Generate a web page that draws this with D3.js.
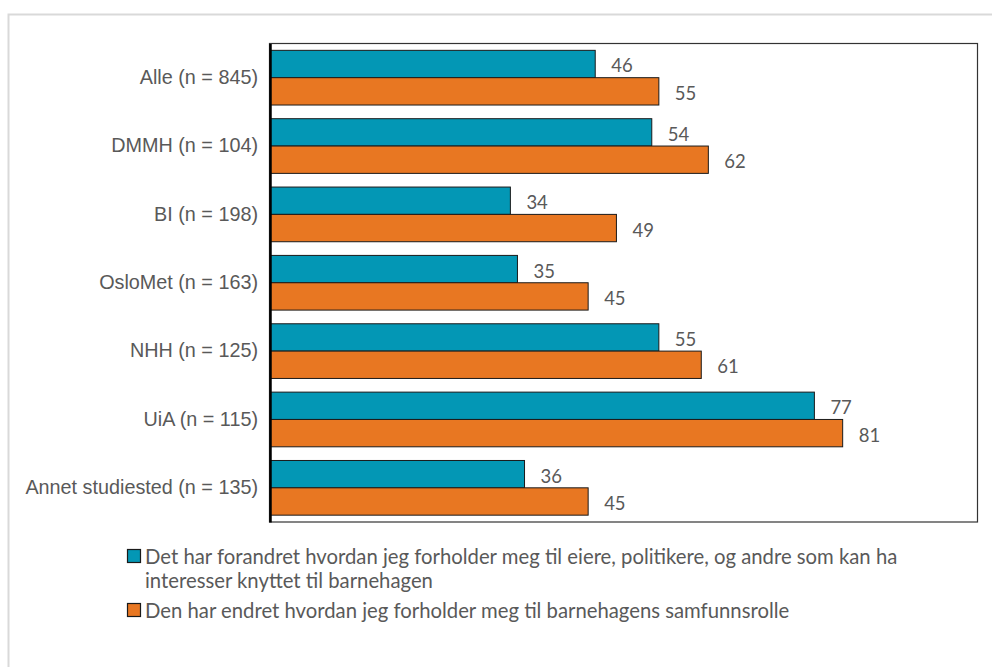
<!DOCTYPE html>
<html><head><meta charset="utf-8">
<script src="https://cdn.jsdelivr.net/npm/d3@7"></script>
<style>
html,body{margin:0;padding:0;background:#fff;}
svg{display:block;font-family:"Lato","Open Sans",sans-serif;}
</style></head>
<body>
<svg id="chart" width="992" height="667"></svg>
<script>
const categories = ["Alle (n = 845)","DMMH (n = 104)","BI (n = 198)","OsloMet (n = 163)","NHH (n = 125)","UiA (n = 115)","Annet studiested (n = 135)"];
const seriesNames = ["Det har forandret hvordan jeg forholder meg til eiere, politikere, og andre som kan ha interesser knyttet til barnehagen","Den har endret hvordan jeg forholder meg til barnehagens samfunnsrolle"];
const seriesA = [46,54,34,35,55,77,36];
const seriesB = [55,62,49,45,61,81,45];
const colors = ["#0397b5","#e87722"];

(function(){
const svg = d3.select("#chart");
const textColor = "#595959";

// outer frame
svg.append("rect").attr("x",8.5).attr("y",14.5).attr("width",1000).attr("height",700)
  .attr("fill","none").attr("stroke","#d9d9d9").attr("stroke-width",2);

const pLeft = 270, pRight = 977, pTop = 43.5, pBottom = 522;
const x = d3.scaleLinear().domain([0,100]).range([pLeft,pRight]);
const y = d3.scaleBand().domain(categories).range([pTop,pBottom]).paddingInner(0.2).paddingOuter(0.1);
const y1 = d3.scaleBand().domain([0,1]).range([0,y.bandwidth()]);

const data = categories.map((c,i)=>({c, vals:[seriesA[i],seriesB[i]]}));

const g = svg.append("g");
const groups = g.selectAll("g.grp").data(data).join("g")
  .attr("transform",d=>`translate(0,${y(d.c)})`);
groups.selectAll("rect").data(d=>d.vals.map((v,k)=>({v,k}))).join("rect")
  .attr("x",x(0)).attr("y",d=>y1(d.k)).attr("width",d=>x(d.v)-x(0)).attr("height",y1.bandwidth())
  .attr("fill",d=>colors[d.k]).attr("stroke","#1a1a1a").attr("stroke-width",1);
groups.selectAll("text").data(d=>d.vals.map((v,k)=>({v,k}))).join("text")
  .attr("x",d=>x(d.v)+16).attr("y",d=>y1(d.k)+y1.bandwidth()/2+1.5)
  .attr("dominant-baseline","central").attr("fill",textColor).attr("font-size",18.5)
  .text(d=>d.v);

// frame of plot
svg.append("rect").attr("x",pLeft-0.5).attr("y",pTop).attr("width",pRight-pLeft+1).attr("height",pBottom-pTop)
  .attr("fill","none").attr("stroke","#333").attr("stroke-width",1.2);

// y axis
const yAxis = d3.axisLeft(y).tickSize(0).tickPadding(12);
const ya = svg.append("g").attr("transform",`translate(${pLeft},0)`).call(yAxis);
ya.select(".domain").attr("stroke","#000").attr("stroke-width",2.5);
ya.selectAll("text").attr("fill",textColor).attr("font-size",19.8).attr("font-family","inherit");

// legend
const legend = svg.append("g").attr("font-size",20.3).attr("fill",textColor);
const legLines = [
  {k:0, lines:["Det har forandret hvordan jeg forholder meg til eiere, politikere, og andre som kan ha","interesser knyttet til barnehagen"], y:556},
  {k:1, lines:[seriesNames[1]], y:610}
];
legLines.forEach(L=>{
  legend.append("rect").attr("x",127.5).attr("y",L.y-6.5).attr("width",13).attr("height",13)
    .attr("fill",colors[L.k]).attr("stroke","#1a1a1a").attr("stroke-width",1.2);
  L.lines.forEach((t,j)=>{
    legend.append("text").attr("x",145).attr("y",L.y+j*24).attr("dominant-baseline","central").text(t);
  });
});
})();
</script>
</body></html>
